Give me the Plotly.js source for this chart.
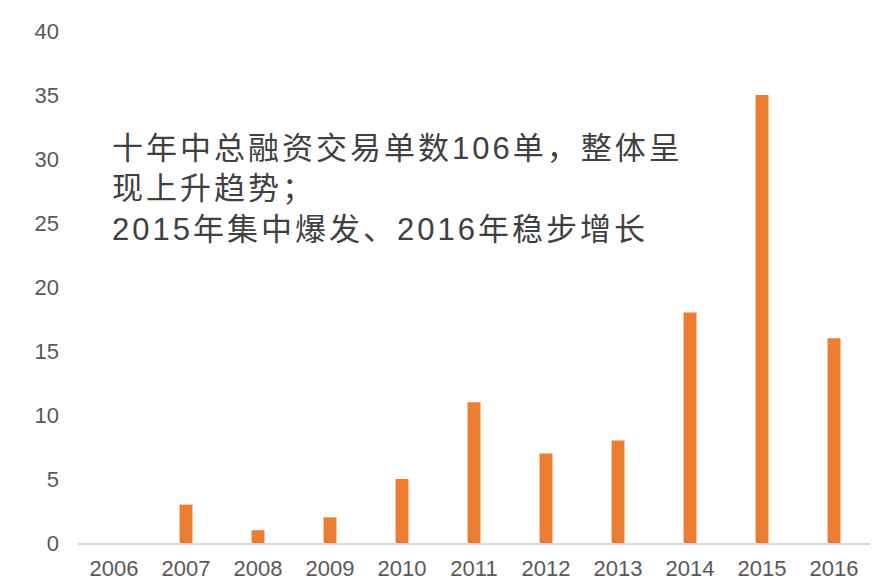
<!DOCTYPE html>
<html>
<head>
<meta charset="utf-8">
<script src="https://cdn.plot.ly/plotly-3.0.1.min.js"></script>
<style>
html,body{margin:0;padding:0;background:#fff;}
#chart{width:875px;height:587px;}
#chart .annotation-text{letter-spacing:3px;}
</style>
</head>
<body>
<div id="chart"></div>
<script>
const years = ['2006','2007','2008','2009','2010','2011','2012','2013','2014','2015','2016'];
const deals = [0, 3, 1, 2, 5, 11, 7, 8, 18, 35, 16];
const yTicks = [0, 5, 10, 15, 20, 25, 30, 35, 40];
const noteText = '十年中总融资交易单数106单，整体呈<br>现上升趋势；<br>2015年集中爆发、2016年稳步增长';

const trace = {
  type: 'bar',
  x: years,
  y: deals,
  marker: { color: '#ED7D31' },
  hoverinfo: 'x+y'
};

const layout = {
  width: 875,
  height: 587,
  margin: { l: 78, r: 5, t: 31, b: 44 },
  paper_bgcolor: '#ffffff',
  plot_bgcolor: '#ffffff',
  bargap: 0.82,
  showlegend: false,
  font: { family: 'Liberation Sans, Arial, Noto Sans CJK SC, sans-serif', color: '#595959', size: 22 },
  xaxis: {
    type: 'category',
    showgrid: false,
    showline: true,
    linecolor: '#D9D9D9',
    linewidth: 2,
    ticks: '',
    zeroline: false,
    ticklabelstandoff: 5,
    tickfont: { size: 22, color: '#595959' }
  },
  yaxis: {
    range: [0, 40],
    tickvals: yTicks,
    ticktext: yTicks.map(String),
    showgrid: false,
    showline: false,
    zeroline: false,
    ticks: '',
    ticklabelstandoff: 18,
    tickfont: { size: 22, color: '#595959' }
  },
  annotations: [{
    xref: 'paper', yref: 'paper',
    x: 0.041, y: 0.808,
    xanchor: 'left', yanchor: 'top',
    align: 'left',
    showarrow: false,
    text: noteText,
    font: { size: 31, color: '#404040', family: 'Liberation Sans, Arial, Noto Sans CJK SC, sans-serif' }
  }]
};

Plotly.newPlot('chart', [trace], layout, { displayModeBar: false, staticPlot: true });
</script>
</body>
</html>
